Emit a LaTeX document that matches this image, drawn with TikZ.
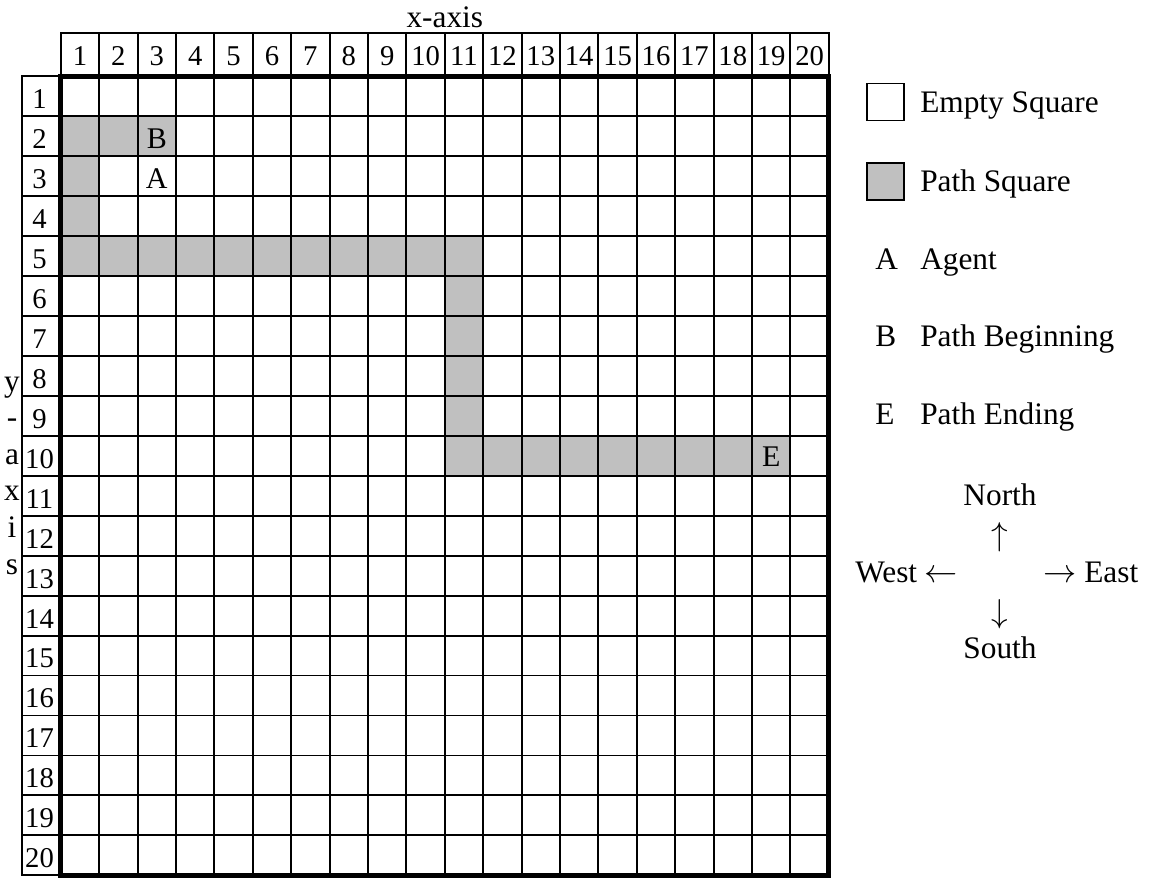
\documentclass[tikz,border=0pt]{standalone}
\usepackage{fontspec}
\setmainfont{Liberation Serif}
\usetikzlibrary{positioning}
\definecolor{pathgray}{HTML}{C0C0C0}
\tikzset{
  gridline/.style={line width=1.4pt},
  numlbl/.style={font=\fontsize{21.5}{25}\selectfont, inner sep=0pt},
  celllbl/.style={font=\fontsize{22.5}{27}\selectfont, inner sep=0pt},
  legtxt/.style={font=\fontsize{23.5}{28}\selectfont, inner sep=0pt},
  legbox/.style={rectangle, draw, line width=1.4pt, minimum size=27.75pt, inner sep=0pt}
}
\def\gx{60.8}
\def\gy{76.3}
\def\cw{38.4}
\def\rh{39.95}

\begin{document}
\begin{tikzpicture}[x=0.75pt, y=-0.75pt]
  \useasboundingbox (0,0) rectangle (1160,878);

  \fill[pathgray] ({\gx},{\gy+\rh}) rectangle ({\gx+3*\cw},{\gy+2*\rh});
  \fill[pathgray] ({\gx},{\gy+2*\rh}) rectangle ({\gx+\cw},{\gy+4*\rh});
  \fill[pathgray] ({\gx},{\gy+4*\rh}) rectangle ({\gx+11*\cw},{\gy+5*\rh});
  \fill[pathgray] ({\gx+10*\cw},{\gy+5*\rh}) rectangle ({\gx+11*\cw},{\gy+9*\rh});
  \fill[pathgray] ({\gx+10*\cw},{\gy+9*\rh}) rectangle ({\gx+19*\cw},{\gy+10*\rh});

  \draw[gridline] ({\gx},33) rectangle ({\gx+20*\cw},{\gy});
  \draw[gridline] (22,{\gy}) rectangle ({\gx},{\gy+20*\rh});
  \foreach \i in {1,...,19}
    \draw[gridline] ({\gx+\i*\cw},33) -- ({\gx+\i*\cw},{\gy+20*\rh});
  \foreach \j in {1,...,19}
    \draw[gridline] (22,{\gy+\j*\rh}) -- ({\gx+20*\cw},{\gy+\j*\rh});
  \draw[line width=3.75pt] ({\gx},{\gy}) rectangle ({\gx+20*\cw},{\gy+20*\rh});

  \foreach \i in {1,...,20} {
    \node[numlbl] (hx\i) at ({\gx+(\i-0.5)*\cw},56) {\i};
    \node[numlbl] (hy\i) at (39.5,{\gy+(\i-0.5)*\rh+3}) {\i};
  }

  \node[legtxt, anchor=base] (xaxis) at (444.8,27) {x-axis};
  \foreach \l [count=\k] in {y,-,a,x,i,s}
    \node[legtxt, anchor=base] (ylbl\k) at (12,{391+36.6*(\k-1)}) {\l};

  \node[celllbl] (pbegin) at ({\gx+2.5*\cw},{\gy+1.5*\rh+2}) {B};
  \node[celllbl] (agent) at ({\gx+2.5*\cw},{\gy+2.5*\rh+2}) {A};
  \node[celllbl] (pend) at ({\gx+18.5*\cw},{\gy+9.5*\rh+1}) {E};

  \node[legbox] (emptybox) at (885.5,102) {};
  \node[legbox, fill=pathgray] (pathbox) at (885.5,181.5) {};
  \node[legtxt, anchor=base west] (emptytxt) at (920,112) {Empty Square};
  \node[legtxt, anchor=base west] (pathtxt) at (920,191) {Path Square};
  \node[legtxt, anchor=base west] (keyA) at (875,269) {A};
  \node[legtxt, anchor=base west] (agenttxt) at (920,269) {Agent};
  \node[legtxt, anchor=base west] (keyB) at (875,346) {B};
  \node[legtxt, anchor=base west] (begintxt) at (920,346) {Path Beginning};
  \node[legtxt, anchor=base west] (keyE) at (875,424) {E};
  \node[legtxt, anchor=base west] (endtxt) at (920,424) {Path Ending};

  \node[legtxt, anchor=base] (north) at (1000,505) {North};
  \node[legtxt] (uparr) at (1000,537) {$\uparrow$};
  \node[legtxt, anchor=base west] (west) at (855,582) {West $\leftarrow$};
  \node[legtxt, anchor=base west] (east) at (1043,582) {$\rightarrow$ East};
  \node[legtxt] (downarr) at (1000,614) {$\downarrow$};
  \node[legtxt, anchor=base] (south) at (1000,658) {South};
\end{tikzpicture}
\end{document}
